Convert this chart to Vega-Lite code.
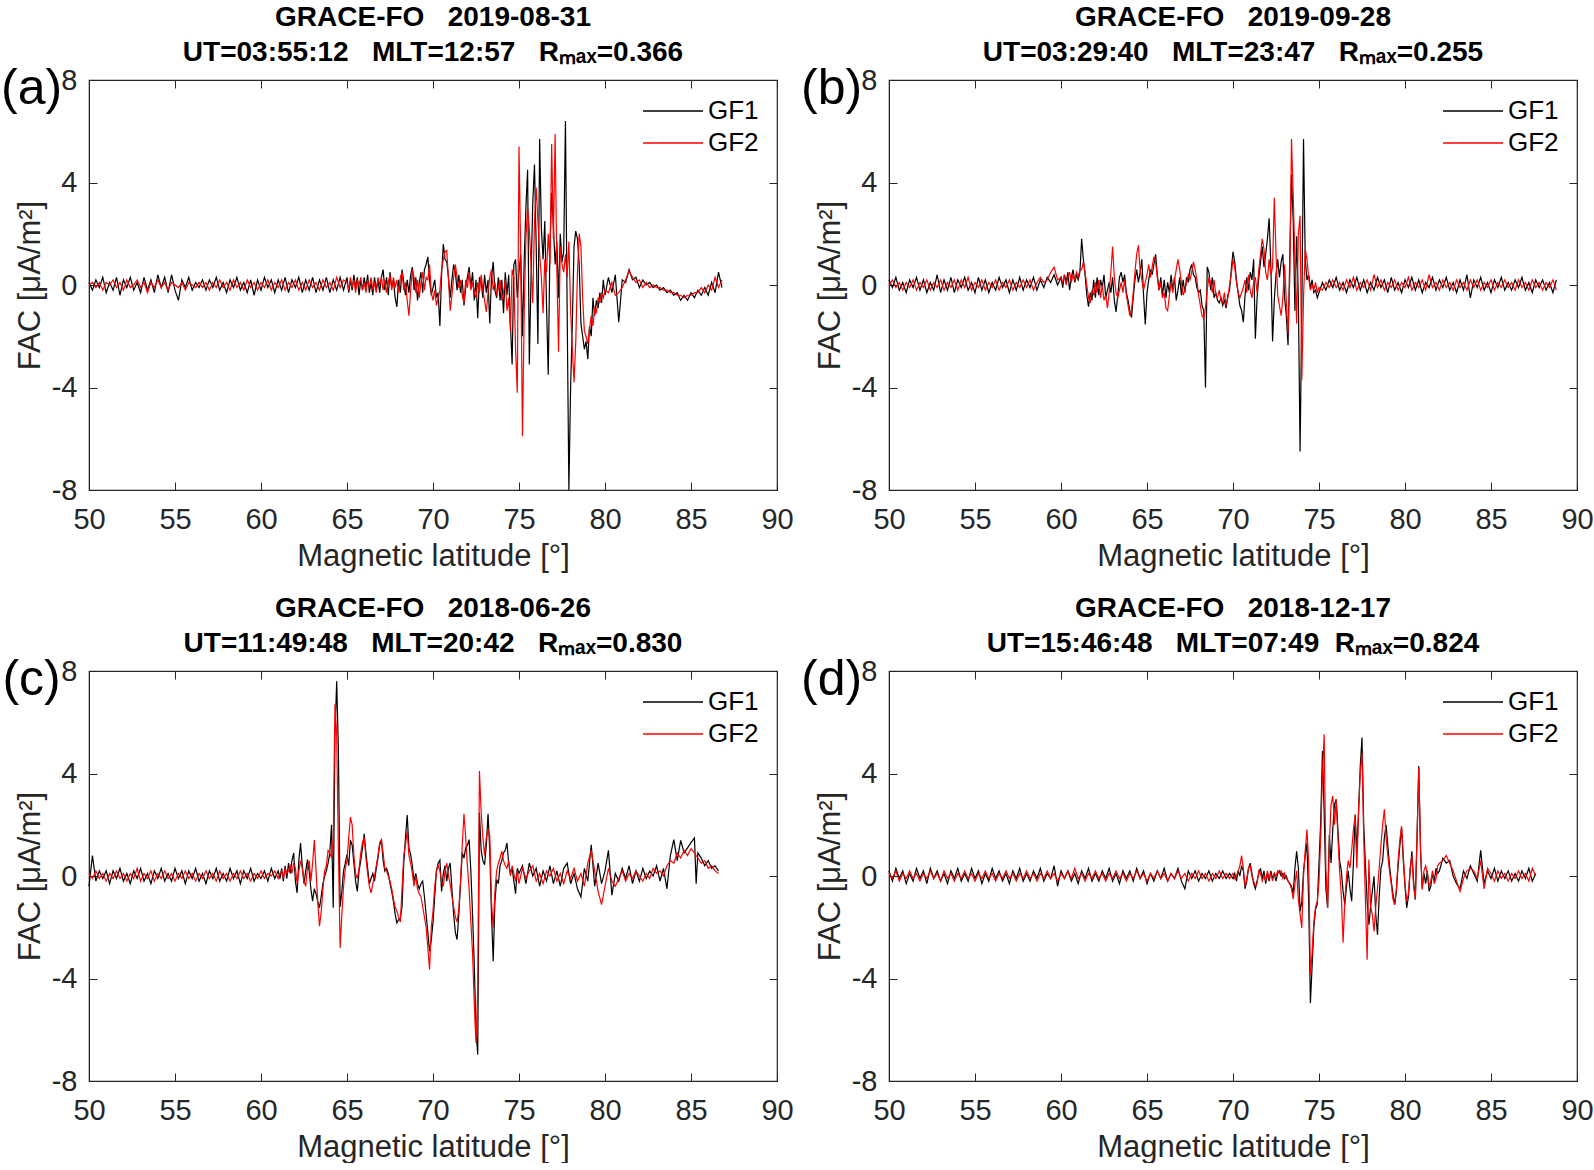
{
"$schema":"https://vega.github.io/schema/vega-lite/v6.json",
"autosize":{"type":"pad"},
"padding":{"left":0,"top":3,"right":0,"bottom":0},
"background":"white",
"config":{
"font":"Liberation Sans",
"view":{"stroke":"#262626","strokeWidth":1.2},
"axis":{"labelFont":"Liberation Sans","labelFontSize":29,"labelColor":"#262626","titleFont":"Liberation Sans","titleFontSize":31,"titleFontWeight":"normal","titleColor":"#262626","domainColor":"#262626","tickColor":"#262626","grid":false,"tickSize":-8,"labelFlush":false,"labelOverlap":false,"labelExpr":"'' + datum.value"},
"axisBottom":{"labelPadding":23,"titlePadding":7},
"axisLeft":{"labelPadding":20,"titlePadding":5},
"title":{"font":"Liberation Sans","fontSize":28,"fontWeight":"bold","color":"#000000","lineHeight":35,"frame":"group","anchor":"middle","offset":-3,"baseline":"bottom"},
"legend":{"orient":"top-right","offset":18,"padding":0,"labelFont":"Liberation Sans","labelFontSize":26,"labelColor":"#000000","symbolType":"M-3,0H3","symbolSize":400,"symbolStrokeWidth":1.3,"labelOffset":22,"rowPadding":6,"labelLimit":200}
},
"datasets":{
"a":[
{"x":50,"GF1":0.1,"GF2":0},{"x":50.2,"GF1":-0.2,"GF2":0.1},{"x":50.4,"GF1":0.2,"GF2":-0.1},{"x":50.6,"GF1":-0.1,"GF2":0.1},{"x":50.8,"GF1":0.3,"GF2":-0.2},{"x":51,"GF1":-0.3,"GF2":0.1},{"x":51.2,"GF1":0.1,"GF2":0},{"x":51.4,"GF1":-0.2,"GF2":0.2},{"x":51.6,"GF1":0.3,"GF2":-0.1},{"x":51.8,"GF1":-0.4,"GF2":0.1},{"x":52,"GF1":0.2,"GF2":-0.2},{"x":52.2,"GF1":-0.1,"GF2":0.2},{"x":52.4,"GF1":0.3,"GF2":-0.1},{"x":52.6,"GF1":-0.2,"GF2":0},{"x":52.8,"GF1":0.1,"GF2":0.2},{"x":53,"GF1":-0.3,"GF2":-0.1},{"x":53.2,"GF1":0.3,"GF2":0.1},{"x":53.4,"GF1":-0.2,"GF2":-0.3},{"x":53.6,"GF1":0.2,"GF2":0.1},{"x":53.8,"GF1":-0.3,"GF2":-0.1},{"x":54,"GF1":0.4,"GF2":0.2},{"x":54.2,"GF1":-0.1,"GF2":-0.1},{"x":54.4,"GF1":0.3,"GF2":0.1},{"x":54.6,"GF1":-0.3,"GF2":-0.2},{"x":54.8,"GF1":0.4,"GF2":0.1},{"x":55,"GF1":-0.2,"GF2":0},{"x":55.2,"GF1":-0.6,"GF2":-0.1},{"x":55.4,"GF1":0.2,"GF2":0.1},{"x":55.6,"GF1":-0.1,"GF2":-0.2},{"x":55.8,"GF1":0.3,"GF2":0.1},{"x":56,"GF1":-0.2,"GF2":0},{"x":56.2,"GF1":0.1,"GF2":-0.1},{"x":56.4,"GF1":-0.1,"GF2":0.1},{"x":56.6,"GF1":0.2,"GF2":-0.1},{"x":56.8,"GF1":-0.2,"GF2":0.1},{"x":57,"GF1":0.2,"GF2":-0.2},{"x":57.2,"GF1":-0.1,"GF2":0.1},{"x":57.4,"GF1":0.3,"GF2":-0.1},{"x":57.6,"GF1":-0.2,"GF2":0.2},{"x":57.8,"GF1":0.1,"GF2":-0.1},{"x":58,"GF1":-0.3,"GF2":0.1},{"x":58.2,"GF1":0.2,"GF2":-0.2},{"x":58.4,"GF1":-0.1,"GF2":0.2},{"x":58.6,"GF1":0.3,"GF2":-0.1},{"x":58.8,"GF1":-0.2,"GF2":0.1},{"x":59,"GF1":0.1,"GF2":-0.2},{"x":59.2,"GF1":-0.3,"GF2":0.2},{"x":59.4,"GF1":0.2,"GF2":-0.1},{"x":59.6,"GF1":-0.4,"GF2":0.1},{"x":59.8,"GF1":0.2,"GF2":-0.2},{"x":60,"GF1":-0.2,"GF2":0.1},{"x":60.2,"GF1":0.3,"GF2":-0.1},{"x":60.4,"GF1":-0.1,"GF2":0.2},{"x":60.6,"GF1":0.2,"GF2":-0.2},{"x":60.8,"GF1":-0.3,"GF2":0.1},{"x":61,"GF1":0.2,"GF2":-0.1},{"x":61.2,"GF1":-0.2,"GF2":0.2},{"x":61.4,"GF1":0.3,"GF2":-0.2},{"x":61.6,"GF1":-0.3,"GF2":0.1},{"x":61.8,"GF1":0.2,"GF2":-0.1},{"x":62,"GF1":-0.1,"GF2":0.2},{"x":62.2,"GF1":0.3,"GF2":-0.2},{"x":62.4,"GF1":-0.3,"GF2":0.1},{"x":62.6,"GF1":0.2,"GF2":-0.2},{"x":62.8,"GF1":-0.2,"GF2":0.2},{"x":63,"GF1":0.3,"GF2":-0.1},{"x":63.2,"GF1":-0.3,"GF2":0.1},{"x":63.4,"GF1":0.2,"GF2":-0.2},{"x":63.6,"GF1":-0.2,"GF2":0.2},{"x":63.8,"GF1":0.3,"GF2":-0.1},{"x":64,"GF1":-0.3,"GF2":0.1},{"x":64.2,"GF1":0.2,"GF2":-0.2},{"x":64.4,"GF1":-0.2,"GF2":0.3},{"x":64.6,"GF1":0.3,"GF2":-0.1},{"x":64.8,"GF1":-0.2,"GF2":0.2},
{"x":65,"GF1":0.3,"GF2":0.1},{"x":65.1,"GF1":-0.3,"GF2":-0.2},{"x":65.2,"GF1":0.2,"GF2":0.3},{"x":65.3,"GF1":-0.2,"GF2":-0.1},{"x":65.4,"GF1":0.4,"GF2":0.2},{"x":65.5,"GF1":-0.1,"GF2":-0.3},{"x":65.6,"GF1":0.3,"GF2":0.2},{"x":65.7,"GF1":-0.4,"GF2":0},{"x":65.8,"GF1":0.2,"GF2":0.3},{"x":65.9,"GF1":-0.2,"GF2":-0.2},{"x":66,"GF1":0.3,"GF2":0.1},{"x":66.1,"GF1":-0.1,"GF2":-0.3},{"x":66.2,"GF1":0.4,"GF2":0.2},{"x":66.3,"GF1":-0.3,"GF2":-0.1},{"x":66.4,"GF1":0.1,"GF2":0.3},{"x":66.5,"GF1":-0.4,"GF2":-0.2},{"x":66.6,"GF1":0.3,"GF2":0.1},{"x":66.7,"GF1":-0.2,"GF2":-0.3},{"x":66.8,"GF1":0.2,"GF2":0.3},{"x":66.9,"GF1":-0.3,"GF2":0},{"x":67,"GF1":0.3,"GF2":0.3},{"x":67.1,"GF1":0.6,"GF2":-0.2},{"x":67.2,"GF1":-0.2,"GF2":0.2},{"x":67.3,"GF1":0.3,"GF2":-0.3},{"x":67.4,"GF1":-0.4,"GF2":0.1},{"x":67.5,"GF1":0.5,"GF2":0.4},{"x":67.6,"GF1":-0.1,"GF2":-0.2},{"x":67.7,"GF1":0.2,"GF2":0.3},{"x":67.8,"GF1":-0.5,"GF2":-0.1},{"x":67.9,"GF1":-0.85,"GF2":0.2},{"x":68,"GF1":0.2,"GF2":-0.3},{"x":68.1,"GF1":-0.3,"GF2":0.3},{"x":68.2,"GF1":0.6,"GF2":0.5},{"x":68.3,"GF1":0.1,"GF2":-0.2},{"x":68.4,"GF1":-0.4,"GF2":0.1},{"x":68.5,"GF1":0.2,"GF2":-0.6},{"x":68.6,"GF1":-0.3,"GF2":-1.2},{"x":68.7,"GF1":0.4,"GF2":-0.2},{"x":68.8,"GF1":0.7,"GF2":0.6},{"x":68.9,"GF1":-0.2,"GF2":0.3},{"x":69,"GF1":0.3,"GF2":-0.3},{"x":69.1,"GF1":-0.6,"GF2":0.2},{"x":69.2,"GF1":0.1,"GF2":-0.5},{"x":69.3,"GF1":0.5,"GF2":0.1},{"x":69.4,"GF1":-0.3,"GF2":0.5},{"x":69.5,"GF1":0.6,"GF2":-0.2},{"x":69.6,"GF1":0.8,"GF2":0.3},{"x":69.7,"GF1":1.1,"GF2":0.2},{"x":69.8,"GF1":0.2,"GF2":0.8},{"x":69.9,"GF1":-0.4,"GF2":-0.3},{"x":70,"GF1":-0.1,"GF2":-0.6},{"x":70.1,"GF1":0.2,"GF2":-0.2},{"x":70.2,"GF1":-0.5,"GF2":-0.8},{"x":70.3,"GF1":-0.3,"GF2":-0.5},{"x":70.4,"GF1":-1.6,"GF2":-0.2},{"x":70.5,"GF1":0.4,"GF2":0.6},{"x":70.6,"GF1":1.6,"GF2":1},{"x":70.7,"GF1":1,"GF2":1.3},{"x":70.8,"GF1":0.9,"GF2":1.35},{"x":70.9,"GF1":0.3,"GF2":0.2},{"x":71,"GF1":-0.5,"GF2":-1},{"x":71.1,"GF1":0.2,"GF2":-0.4},{"x":71.2,"GF1":0.8,"GF2":0.3},{"x":71.3,"GF1":0.5,"GF2":0.8},{"x":71.4,"GF1":-0.2,"GF2":0.3},{"x":71.5,"GF1":0.4,"GF2":-0.1},{"x":71.6,"GF1":-0.3,"GF2":0.2},{"x":71.7,"GF1":0.2,"GF2":-0.4},{"x":71.8,"GF1":-0.8,"GF2":-0.7},{"x":71.9,"GF1":-0.1,"GF2":0.2},{"x":72,"GF1":0.3,"GF2":-0.1},{"x":72.1,"GF1":0.7,"GF2":0.5},{"x":72.2,"GF1":-0.1,"GF2":-0.2},{"x":72.3,"GF1":0.5,"GF2":0.1},{"x":72.4,"GF1":-0.6,"GF2":-0.3},{"x":72.5,"GF1":0.2,"GF2":-0.5},{"x":72.6,"GF1":-1.3,"GF2":0.1},{"x":72.7,"GF1":0.3,"GF2":-0.3},{"x":72.8,"GF1":0.1,"GF2":0.4},{"x":72.9,"GF1":-0.5,"GF2":-0.2},{"x":73,"GF1":0.4,"GF2":-0.6},{"x":73.1,"GF1":-0.3,"GF2":-1.05},{"x":73.2,"GF1":0.2,"GF2":-0.3},{"x":73.3,"GF1":-1.5,"GF2":0.3},{"x":73.4,"GF1":0.3,"GF2":0.6},{"x":73.5,"GF1":0.9,"GF2":-0.2},{"x":73.6,"GF1":-0.2,"GF2":0.1},{"x":73.7,"GF1":-0.5,"GF2":-0.4},{"x":73.8,"GF1":0.3,"GF2":-0.1},{"x":73.9,"GF1":-0.6,"GF2":0.2},{"x":74,"GF1":0.2,"GF2":-0.6},{"x":74.1,"GF1":-1.1,"GF2":-0.3},{"x":74.2,"GF1":0.5,"GF2":0.2},{"x":74.3,"GF1":-0.4,"GF2":-1},{"x":74.4,"GF1":0.4,"GF2":-0.5},{"x":74.5,"GF1":-1.5,"GF2":-1.8},{"x":74.6,"GF1":-3.1,"GF2":0.6},{"x":74.7,"GF1":0.8,"GF2":0.3},{"x":74.8,"GF1":1,"GF2":-2.5},{"x":74.9,"GF1":-0.5,"GF2":-4.2},{"x":75,"GF1":0.5,"GF2":5.4},{"x":75.1,"GF1":1.2,"GF2":1.2},{"x":75.2,"GF1":-2,"GF2":-5.9},{"x":75.3,"GF1":0.9,"GF2":-1.2},{"x":75.4,"GF1":3,"GF2":1.8},{"x":75.5,"GF1":4.5,"GF2":3},{"x":75.6,"GF1":-3.1,"GF2":2.2},{"x":75.7,"GF1":0.3,"GF2":0.8},{"x":75.8,"GF1":3.2,"GF2":-0.7},{"x":75.9,"GF1":4.7,"GF2":2.5},{"x":76,"GF1":1.5,"GF2":3.8},{"x":76.1,"GF1":-2.3,"GF2":2.5},{"x":76.2,"GF1":5.7,"GF2":1.2},{"x":76.3,"GF1":2.2,"GF2":0.3},{"x":76.4,"GF1":1,"GF2":-1.1},{"x":76.5,"GF1":2.5,"GF2":1},{"x":76.6,"GF1":-0.8,"GF2":0.5},{"x":76.7,"GF1":-3.5,"GF2":2},{"x":76.8,"GF1":1.5,"GF2":0.8},{"x":76.9,"GF1":3.6,"GF2":5.5},{"x":77,"GF1":2.3,"GF2":1.8},{"x":77.1,"GF1":0.8,"GF2":5.9},{"x":77.2,"GF1":1.7,"GF2":0.6},{"x":77.3,"GF1":-0.5,"GF2":-2.6},{"x":77.4,"GF1":2,"GF2":1.5},{"x":77.5,"GF1":0.9,"GF2":0.8},{"x":77.6,"GF1":1.3,"GF2":0.5},{"x":77.7,"GF1":6.4,"GF2":1.2},{"x":77.8,"GF1":-1,"GF2":0.3},{"x":77.9,"GF1":-8,"GF2":1.7},{"x":78,"GF1":-4,"GF2":-1},{"x":78.1,"GF1":-1.5,"GF2":-2.5},{"x":78.2,"GF1":1.5,"GF2":-3.8},{"x":78.3,"GF1":2.1,"GF2":-2.2},{"x":78.4,"GF1":1.8,"GF2":0.5},{"x":78.5,"GF1":0.8,"GF2":2},{"x":78.6,"GF1":-1.5,"GF2":1.5},{"x":78.7,"GF1":-2,"GF2":-0.5},{"x":78.8,"GF1":-2.5,"GF2":-1.8},{"x":78.9,"GF1":-2.2,"GF2":-2},{"x":79,"GF1":-2.9,"GF2":-2.3},{"x":79.1,"GF1":-1.6,"GF2":-1.7},{"x":79.2,"GF1":-2,"GF2":-1.2},{"x":79.3,"GF1":-0.5,"GF2":-1.6},{"x":79.4,"GF1":-1.2,"GF2":-0.9},{"x":79.5,"GF1":-0.6,"GF2":-1.1},{"x":79.6,"GF1":-0.9,"GF2":-0.5},{"x":79.7,"GF1":-0.3,"GF2":-0.7},{"x":79.8,"GF1":-0.7,"GF2":-0.3},{"x":79.9,"GF1":0.2,"GF2":-0.5},{"x":80,"GF1":-0.4,"GF2":-0.2},
{"x":80.2,"GF1":0.3,"GF2":-0.3},{"x":80.4,"GF1":-0.3,"GF2":0.1},{"x":80.6,"GF1":0.4,"GF2":-0.4},{"x":80.8,"GF1":-1.45,"GF2":-0.3},{"x":81,"GF1":0.2,"GF2":-0.1},{"x":81.2,"GF1":0.1,"GF2":0.2},{"x":81.4,"GF1":0.6,"GF2":0.55},{"x":81.6,"GF1":0.2,"GF2":0.3},{"x":81.8,"GF1":0.3,"GF2":0.1},{"x":82,"GF1":-0.1,"GF2":0.2},{"x":82.2,"GF1":0.2,"GF2":-0.1},{"x":82.4,"GF1":0,"GF2":0.1},{"x":82.6,"GF1":0.1,"GF2":-0.1},{"x":82.8,"GF1":-0.1,"GF2":0},{"x":83,"GF1":0,"GF2":-0.1},{"x":83.2,"GF1":-0.2,"GF2":-0.1},{"x":83.4,"GF1":-0.1,"GF2":-0.2},{"x":83.6,"GF1":-0.3,"GF2":-0.2},{"x":83.8,"GF1":-0.2,"GF2":-0.3},{"x":84,"GF1":-0.4,"GF2":-0.3},{"x":84.2,"GF1":-0.3,"GF2":-0.4},{"x":84.4,"GF1":-0.6,"GF2":-0.4},{"x":84.6,"GF1":-0.4,"GF2":-0.5},{"x":84.8,"GF1":-0.6,"GF2":-0.4},{"x":85,"GF1":-0.3,"GF2":-0.4},{"x":85.2,"GF1":-0.5,"GF2":-0.3},{"x":85.4,"GF1":-0.2,"GF2":-0.3},{"x":85.6,"GF1":-0.4,"GF2":-0.1},{"x":85.8,"GF1":-0.1,"GF2":-0.3},{"x":86,"GF1":-0.4,"GF2":0},{"x":86.2,"GF1":0.1,"GF2":-0.2},{"x":86.4,"GF1":-0.3,"GF2":0.3},{"x":86.6,"GF1":0.5,"GF2":-0.1},{"x":86.8,"GF1":-0.1,"GF2":0.2}
],
"b":[
{"x":50,"GF1":0.2,"GF2":0},{"x":50.2,"GF1":-0.1,"GF2":0.2},{"x":50.4,"GF1":0.3,"GF2":-0.1},{"x":50.6,"GF1":-0.2,"GF2":0.1},{"x":50.8,"GF1":0.1,"GF2":-0.2},{"x":51,"GF1":-0.3,"GF2":0.1},{"x":51.2,"GF1":0.2,"GF2":-0.1},{"x":51.4,"GF1":-0.1,"GF2":0.2},{"x":51.6,"GF1":0.3,"GF2":-0.2},{"x":51.8,"GF1":-0.2,"GF2":0.1},{"x":52,"GF1":0.2,"GF2":-0.1},{"x":52.2,"GF1":-0.3,"GF2":0.2},{"x":52.4,"GF1":0.1,"GF2":-0.2},{"x":52.6,"GF1":-0.2,"GF2":0.1},{"x":52.8,"GF1":0.4,"GF2":-0.1},{"x":53,"GF1":-0.3,"GF2":0.2},{"x":53.2,"GF1":0.2,"GF2":-0.2},{"x":53.4,"GF1":-0.2,"GF2":0.1},{"x":53.6,"GF1":0.3,"GF2":-0.1},{"x":53.8,"GF1":-0.3,"GF2":0.2},{"x":54,"GF1":0.2,"GF2":-0.2},{"x":54.2,"GF1":-0.1,"GF2":0.2},{"x":54.4,"GF1":0.3,"GF2":-0.1},{"x":54.6,"GF1":-0.2,"GF2":0.3},{"x":54.8,"GF1":0.1,"GF2":-0.2},{"x":55,"GF1":-0.3,"GF2":0.1},{"x":55.2,"GF1":0.3,"GF2":-0.1},{"x":55.4,"GF1":-0.2,"GF2":0.2},{"x":55.6,"GF1":0.2,"GF2":-0.2},{"x":55.8,"GF1":-0.3,"GF2":0.1},{"x":56,"GF1":0.1,"GF2":-0.1},{"x":56.2,"GF1":-0.2,"GF2":0.2},{"x":56.4,"GF1":0.3,"GF2":-0.2},{"x":56.6,"GF1":-0.1,"GF2":0.1},{"x":56.8,"GF1":0.2,"GF2":-0.1},{"x":57,"GF1":-0.3,"GF2":0.2},{"x":57.2,"GF1":0.2,"GF2":-0.2},{"x":57.4,"GF1":-0.2,"GF2":0.1},{"x":57.6,"GF1":0.3,"GF2":-0.1},{"x":57.8,"GF1":-0.2,"GF2":0.2},{"x":58,"GF1":0.2,"GF2":-0.1},{"x":58.2,"GF1":-0.1,"GF2":0.2},{"x":58.4,"GF1":0.3,"GF2":-0.2},{"x":58.6,"GF1":-0.2,"GF2":0.1},{"x":58.8,"GF1":0.2,"GF2":0.3},{"x":59,"GF1":-0.1,"GF2":0.1},{"x":59.2,"GF1":0.3,"GF2":0.2},{"x":59.4,"GF1":0.1,"GF2":0.5},{"x":59.6,"GF1":0.4,"GF2":0.7},{"x":59.8,"GF1":0,"GF2":0.2},
{"x":60,"GF1":0.3,"GF2":0.3},{"x":60.1,"GF1":-0.1,"GF2":0.1},{"x":60.2,"GF1":0.4,"GF2":0.4},{"x":60.3,"GF1":0.1,"GF2":0},{"x":60.4,"GF1":0.5,"GF2":0.3},{"x":60.5,"GF1":-0.2,"GF2":0.5},{"x":60.6,"GF1":0.3,"GF2":0.1},{"x":60.7,"GF1":0.6,"GF2":0.4},{"x":60.8,"GF1":0.1,"GF2":0.2},{"x":60.9,"GF1":0.4,"GF2":0.5},{"x":61,"GF1":0.2,"GF2":0.3},{"x":61.1,"GF1":0.5,"GF2":0.6},{"x":61.2,"GF1":1.8,"GF2":0.6},{"x":61.3,"GF1":1,"GF2":0.9},{"x":61.4,"GF1":0.4,"GF2":0.5},{"x":61.5,"GF1":-0.4,"GF2":0},{"x":61.6,"GF1":-0.85,"GF2":-0.5},{"x":61.7,"GF1":-0.3,"GF2":-0.7},{"x":61.8,"GF1":-0.6,"GF2":-0.2},{"x":61.9,"GF1":0.2,"GF2":-0.4},{"x":62,"GF1":-0.5,"GF2":0.1},{"x":62.1,"GF1":0.3,"GF2":-0.3},{"x":62.2,"GF1":-0.4,"GF2":0.2},{"x":62.3,"GF1":0.2,"GF2":-0.5},{"x":62.4,"GF1":-0.1,"GF2":0},{"x":62.5,"GF1":0.4,"GF2":-0.6},{"x":62.6,"GF1":-0.5,"GF2":-0.4},{"x":62.7,"GF1":-0.2,"GF2":-0.9},{"x":62.8,"GF1":0.1,"GF2":-0.3},{"x":62.9,"GF1":-0.3,"GF2":0.5},{"x":63,"GF1":0.3,"GF2":1.5},{"x":63.1,"GF1":-0.6,"GF2":0.3},{"x":63.2,"GF1":-1.05,"GF2":-0.3},{"x":63.3,"GF1":-0.4,"GF2":-0.5},{"x":63.4,"GF1":0.3,"GF2":-0.2},{"x":63.5,"GF1":0.5,"GF2":0.1},{"x":63.6,"GF1":0.1,"GF2":-0.3},{"x":63.7,"GF1":0.4,"GF2":0.2},{"x":63.8,"GF1":-0.3,"GF2":-0.4},{"x":63.9,"GF1":-0.6,"GF2":-0.8},{"x":64,"GF1":-1,"GF2":-1.2},{"x":64.1,"GF1":-1.27,"GF2":-1},{"x":64.2,"GF1":-0.5,"GF2":-0.3},{"x":64.3,"GF1":0.2,"GF2":0.5},{"x":64.4,"GF1":0.6,"GF2":1.2},{"x":64.5,"GF1":0.1,"GF2":1.55},{"x":64.6,"GF1":0.5,"GF2":0.6},{"x":64.7,"GF1":1,"GF2":0.2},{"x":64.8,"GF1":-0.4,"GF2":-0.2},{"x":64.9,"GF1":-1.54,"GF2":0.1},{"x":65,"GF1":-0.3,"GF2":0.4},{"x":65.1,"GF1":0.2,"GF2":0.8},{"x":65.2,"GF1":0.6,"GF2":0.3},{"x":65.3,"GF1":0.4,"GF2":0.7},{"x":65.4,"GF1":0.8,"GF2":1.1},{"x":65.5,"GF1":1.2,"GF2":0.9},{"x":65.6,"GF1":0.4,"GF2":0.3},{"x":65.7,"GF1":-0.2,"GF2":-0.2},{"x":65.8,"GF1":0.3,"GF2":0.1},{"x":65.9,"GF1":-0.4,"GF2":-0.5},{"x":66,"GF1":0.2,"GF2":-0.3},{"x":66.1,"GF1":-0.5,"GF2":-0.9},{"x":66.2,"GF1":0.1,"GF2":-1},{"x":66.3,"GF1":-0.3,"GF2":-0.4},{"x":66.4,"GF1":0.4,"GF2":0.1},{"x":66.5,"GF1":-0.2,"GF2":-0.3},{"x":66.6,"GF1":0.3,"GF2":0.2},{"x":66.7,"GF1":-0.6,"GF2":0.6},{"x":66.8,"GF1":-0.2,"GF2":1},{"x":66.9,"GF1":0.3,"GF2":0.6},{"x":67,"GF1":-0.4,"GF2":0.1},{"x":67.1,"GF1":0.2,"GF2":-0.4},{"x":67.2,"GF1":-0.3,"GF2":-0.2},{"x":67.3,"GF1":0.3,"GF2":0.1},{"x":67.4,"GF1":0.1,"GF2":0.4},{"x":67.5,"GF1":0.6,"GF2":0.2},{"x":67.6,"GF1":0.8,"GF2":0.5},{"x":67.7,"GF1":0.4,"GF2":0.9},{"x":67.8,"GF1":0.3,"GF2":0.6},{"x":67.9,"GF1":-0.1,"GF2":0.2},{"x":68,"GF1":-0.3,"GF2":-0.4},{"x":68.1,"GF1":-0.2,"GF2":-0.8},{"x":68.2,"GF1":-0.8,"GF2":-1.2},{"x":68.3,"GF1":-1,"GF2":-1.3},{"x":68.4,"GF1":-4,"GF2":-0.9},{"x":68.5,"GF1":0.7,"GF2":-0.2},{"x":68.6,"GF1":0.5,"GF2":0.3},{"x":68.7,"GF1":-0.2,"GF2":0.1},{"x":68.8,"GF1":0.3,"GF2":-0.3},{"x":68.9,"GF1":-0.5,"GF2":0.2},{"x":69,"GF1":-0.3,"GF2":-0.4},{"x":69.1,"GF1":-0.6,"GF2":-0.5},{"x":69.2,"GF1":-0.7,"GF2":-0.2},{"x":69.3,"GF1":-0.5,"GF2":-0.6},{"x":69.4,"GF1":-0.8,"GF2":-0.7},{"x":69.5,"GF1":-0.6,"GF2":-0.3},{"x":69.6,"GF1":-0.9,"GF2":-0.8},{"x":69.7,"GF1":-0.4,"GF2":-0.5},{"x":69.8,"GF1":-0.2,"GF2":0},{"x":69.9,"GF1":0.6,"GF2":0.4},{"x":70,"GF1":1.3,"GF2":1},{"x":70.1,"GF1":0.9,"GF2":0.7},{"x":70.2,"GF1":0.2,"GF2":0.1},{"x":70.3,"GF1":-0.3,"GF2":-0.3},{"x":70.4,"GF1":-0.8,"GF2":-0.5},{"x":70.5,"GF1":-1,"GF2":-0.3},{"x":70.6,"GF1":-1.45,"GF2":-0.1},{"x":70.7,"GF1":-0.4,"GF2":0.2},{"x":70.8,"GF1":0.3,"GF2":-0.3},{"x":70.9,"GF1":-0.2,"GF2":0.4},{"x":71,"GF1":0.5,"GF2":-0.2},{"x":71.1,"GF1":0.2,"GF2":-0.5},{"x":71.2,"GF1":1,"GF2":0.1},{"x":71.3,"GF1":-2.1,"GF2":0.3},{"x":71.4,"GF1":-0.5,"GF2":-0.3},{"x":71.5,"GF1":0.3,"GF2":0.6},{"x":71.6,"GF1":0.9,"GF2":1.2},{"x":71.7,"GF1":1.5,"GF2":1.8},{"x":71.8,"GF1":0.7,"GF2":1.4},{"x":71.9,"GF1":1.2,"GF2":0.5},{"x":72,"GF1":1.8,"GF2":0.2},{"x":72.1,"GF1":2.6,"GF2":1},{"x":72.2,"GF1":0.8,"GF2":0.4},{"x":72.3,"GF1":-2.2,"GF2":0.7},{"x":72.4,"GF1":-0.6,"GF2":3.4},{"x":72.5,"GF1":0.4,"GF2":1.2},{"x":72.6,"GF1":1,"GF2":-0.4},{"x":72.7,"GF1":0.3,"GF2":-0.8},{"x":72.8,"GF1":0.9,"GF2":-1.2},{"x":72.9,"GF1":1.2,"GF2":-0.5},{"x":73,"GF1":-0.5,"GF2":0.8},{"x":73.1,"GF1":-1.2,"GF2":-0.6},{"x":73.2,"GF1":-2.35,"GF2":-1.9},{"x":73.3,"GF1":1,"GF2":0.2},{"x":73.4,"GF1":4.3,"GF2":5.7},{"x":73.5,"GF1":2.5,"GF2":3.5},{"x":73.6,"GF1":-1,"GF2":1},{"x":73.7,"GF1":1.9,"GF2":-1.5},{"x":73.8,"GF1":-0.5,"GF2":2},{"x":73.9,"GF1":-6.5,"GF2":2.7},{"x":74,"GF1":-1,"GF2":-3.7},{"x":74.1,"GF1":5.7,"GF2":-0.5},{"x":74.2,"GF1":1,"GF2":1.4},{"x":74.3,"GF1":0.2,"GF2":1},{"x":74.4,"GF1":0.4,"GF2":0.3},{"x":74.5,"GF1":-0.1,"GF2":-0.2},{"x":74.6,"GF1":0.2,"GF2":0},{"x":74.7,"GF1":-0.3,"GF2":-0.2},{"x":74.8,"GF1":-0.2,"GF2":0.1},{"x":74.9,"GF1":-0.5,"GF2":-0.3},{"x":75,"GF1":-0.3,"GF2":-0.1},
{"x":75.2,"GF1":0.1,"GF2":-0.2},{"x":75.4,"GF1":-0.2,"GF2":0.1},{"x":75.6,"GF1":0.2,"GF2":-0.1},{"x":75.8,"GF1":-0.1,"GF2":0.2},{"x":76,"GF1":0.3,"GF2":-0.1},{"x":76.2,"GF1":-0.2,"GF2":0.1},{"x":76.4,"GF1":0.1,"GF2":-0.2},{"x":76.6,"GF1":-0.3,"GF2":0.2},{"x":76.8,"GF1":0.2,"GF2":-0.1},{"x":77,"GF1":-0.1,"GF2":0.3},{"x":77.2,"GF1":0.3,"GF2":-0.2},{"x":77.4,"GF1":-0.2,"GF2":0.1},{"x":77.6,"GF1":0.2,"GF2":-0.1},{"x":77.8,"GF1":-0.3,"GF2":0.2},{"x":78,"GF1":0.1,"GF2":-0.2},{"x":78.2,"GF1":-0.2,"GF2":0.4},{"x":78.4,"GF1":0.3,"GF2":-0.1},{"x":78.6,"GF1":-0.1,"GF2":0.2},{"x":78.8,"GF1":0.2,"GF2":-0.2},{"x":79,"GF1":-0.3,"GF2":0.1},{"x":79.2,"GF1":0.3,"GF2":-0.1},{"x":79.4,"GF1":-0.2,"GF2":0.2},{"x":79.6,"GF1":0.1,"GF2":-0.2},{"x":79.8,"GF1":-0.3,"GF2":0.1},{"x":80,"GF1":0.2,"GF2":-0.1},{"x":80.2,"GF1":-0.1,"GF2":0.3},{"x":80.4,"GF1":0.3,"GF2":-0.2},{"x":80.6,"GF1":-0.2,"GF2":0.1},{"x":80.8,"GF1":0.2,"GF2":-0.1},{"x":81,"GF1":-0.3,"GF2":0.2},{"x":81.2,"GF1":0.1,"GF2":-0.2},{"x":81.4,"GF1":-0.1,"GF2":0.4},{"x":81.6,"GF1":0.3,"GF2":-0.1},{"x":81.8,"GF1":-0.2,"GF2":0.1},{"x":82,"GF1":0.2,"GF2":-0.2},{"x":82.2,"GF1":-0.1,"GF2":0.2},{"x":82.4,"GF1":0.3,"GF2":-0.1},{"x":82.6,"GF1":-0.2,"GF2":0.1},{"x":82.8,"GF1":0.1,"GF2":-0.2},{"x":83,"GF1":-0.3,"GF2":0.2},{"x":83.2,"GF1":0.2,"GF2":-0.1},{"x":83.4,"GF1":-0.2,"GF2":0.1},{"x":83.6,"GF1":0.4,"GF2":-0.2},{"x":83.8,"GF1":-0.5,"GF2":0.2},{"x":84,"GF1":0.2,"GF2":-0.1},{"x":84.2,"GF1":-0.1,"GF2":0.2},{"x":84.4,"GF1":0.3,"GF2":-0.2},{"x":84.6,"GF1":-0.2,"GF2":0.1},{"x":84.8,"GF1":0.1,"GF2":-0.1},{"x":85,"GF1":-0.3,"GF2":0.2},{"x":85.2,"GF1":0.2,"GF2":-0.2},{"x":85.4,"GF1":-0.1,"GF2":0.1},{"x":85.6,"GF1":0.3,"GF2":-0.1},{"x":85.8,"GF1":-0.2,"GF2":0.2},{"x":86,"GF1":0.1,"GF2":-0.1},{"x":86.2,"GF1":-0.2,"GF2":0.1},{"x":86.4,"GF1":0.2,"GF2":-0.2},{"x":86.6,"GF1":-0.1,"GF2":0.2},{"x":86.8,"GF1":0.3,"GF2":-0.1},{"x":87,"GF1":-0.2,"GF2":0.1},{"x":87.2,"GF1":0.1,"GF2":-0.2},{"x":87.4,"GF1":-0.3,"GF2":0.2},{"x":87.6,"GF1":0.2,"GF2":-0.1},{"x":87.8,"GF1":-0.1,"GF2":0.1},{"x":88,"GF1":0.2,"GF2":-0.2},{"x":88.2,"GF1":-0.2,"GF2":0.1},{"x":88.4,"GF1":0.1,"GF2":-0.1},{"x":88.6,"GF1":-0.3,"GF2":0.2},{"x":88.8,"GF1":0.2,"GF2":-0.2}
],
"c":[
{"x":50,"GF1":-0.4,"GF2":0.1},{"x":50.2,"GF1":0.8,"GF2":-0.1},{"x":50.4,"GF1":-0.2,"GF2":0.2},{"x":50.6,"GF1":0.2,"GF2":-0.1},{"x":50.8,"GF1":-0.1,"GF2":0.1},{"x":51,"GF1":0.2,"GF2":-0.2},{"x":51.2,"GF1":-0.3,"GF2":0.1},{"x":51.4,"GF1":0.2,"GF2":-0.1},{"x":51.6,"GF1":-0.1,"GF2":0.2},{"x":51.8,"GF1":0.3,"GF2":-0.1},{"x":52,"GF1":-0.2,"GF2":0.1},{"x":52.2,"GF1":0.1,"GF2":-0.2},{"x":52.4,"GF1":-0.3,"GF2":0.1},{"x":52.6,"GF1":0.2,"GF2":-0.1},{"x":52.8,"GF1":-0.1,"GF2":0.3},{"x":53,"GF1":0.3,"GF2":-0.2},{"x":53.2,"GF1":-0.2,"GF2":0.1},{"x":53.4,"GF1":0.1,"GF2":-0.1},{"x":53.6,"GF1":-0.3,"GF2":0.2},{"x":53.8,"GF1":0.2,"GF2":-0.2},{"x":54,"GF1":-0.1,"GF2":0.1},{"x":54.2,"GF1":0.3,"GF2":-0.1},{"x":54.4,"GF1":-0.2,"GF2":0.2},{"x":54.6,"GF1":0.1,"GF2":-0.1},{"x":54.8,"GF1":-0.2,"GF2":0.1},{"x":55,"GF1":0.3,"GF2":-0.2},{"x":55.2,"GF1":-0.1,"GF2":0.1},{"x":55.4,"GF1":0.2,"GF2":-0.1},{"x":55.6,"GF1":-0.3,"GF2":0.2},{"x":55.8,"GF1":0.2,"GF2":-0.1},{"x":56,"GF1":-0.1,"GF2":0.1},{"x":56.2,"GF1":0.3,"GF2":-0.2},{"x":56.4,"GF1":-0.2,"GF2":0.1},{"x":56.6,"GF1":0.1,"GF2":-0.1},{"x":56.8,"GF1":-0.3,"GF2":0.2},{"x":57,"GF1":0.2,"GF2":-0.1},{"x":57.2,"GF1":-0.1,"GF2":0.1},{"x":57.4,"GF1":0.3,"GF2":-0.2},{"x":57.6,"GF1":-0.2,"GF2":0.2},{"x":57.8,"GF1":0.1,"GF2":-0.1},{"x":58,"GF1":-0.2,"GF2":0.1},{"x":58.2,"GF1":0.3,"GF2":-0.2},{"x":58.4,"GF1":-0.1,"GF2":0.1},{"x":58.6,"GF1":0.2,"GF2":-0.1},{"x":58.8,"GF1":-0.3,"GF2":0.2},{"x":59,"GF1":0.2,"GF2":-0.1},{"x":59.2,"GF1":-0.1,"GF2":0.1},{"x":59.4,"GF1":0.3,"GF2":-0.2},{"x":59.6,"GF1":-0.2,"GF2":0.1},{"x":59.8,"GF1":0.1,"GF2":-0.1},{"x":60,"GF1":-0.1,"GF2":0.2},{"x":60.2,"GF1":0.2,"GF2":-0.1},{"x":60.4,"GF1":-0.2,"GF2":0.1},{"x":60.6,"GF1":0.3,"GF2":0},{"x":60.8,"GF1":-0.1,"GF2":0.2},
{"x":61,"GF1":0.2,"GF2":-0.1},{"x":61.1,"GF1":-0.1,"GF2":0.1},{"x":61.2,"GF1":0.3,"GF2":0.2},{"x":61.3,"GF1":-0.2,"GF2":-0.1},{"x":61.4,"GF1":0.4,"GF2":0.3},{"x":61.5,"GF1":-0.1,"GF2":0.1},{"x":61.6,"GF1":0.5,"GF2":0.2},{"x":61.7,"GF1":0.1,"GF2":0.4},{"x":61.8,"GF1":0.6,"GF2":0.1},{"x":61.9,"GF1":0.9,"GF2":0.5},{"x":62,"GF1":-0.2,"GF2":0.3},{"x":62.1,"GF1":-0.66,"GF2":-0.3},{"x":62.2,"GF1":0.6,"GF2":0.2},{"x":62.3,"GF1":1.29,"GF2":0.6},{"x":62.4,"GF1":0.4,"GF2":0.3},{"x":62.5,"GF1":-0.3,"GF2":-0.2},{"x":62.6,"GF1":0.2,"GF2":-0.4},{"x":62.7,"GF1":0.64,"GF2":0.3},{"x":62.8,"GF1":0.2,"GF2":0.6},{"x":62.9,"GF1":-0.5,"GF2":-0.2},{"x":63,"GF1":-0.98,"GF2":0.5},{"x":63.1,"GF1":-0.5,"GF2":1.4},{"x":63.2,"GF1":-0.7,"GF2":0.2},{"x":63.3,"GF1":-1,"GF2":-1},{"x":63.4,"GF1":-1.24,"GF2":-1.96},{"x":63.5,"GF1":-0.8,"GF2":-1.4},{"x":63.6,"GF1":-0.3,"GF2":-0.5},{"x":63.7,"GF1":0,"GF2":0.2},{"x":63.8,"GF1":0.2,"GF2":0.4},{"x":63.9,"GF1":0.5,"GF2":1},{"x":64,"GF1":0.9,"GF2":0.9},{"x":64.1,"GF1":2,"GF2":0.7},{"x":64.2,"GF1":-1.24,"GF2":1.5},{"x":64.3,"GF1":5.5,"GF2":6.7},{"x":64.4,"GF1":7.6,"GF2":5.5},{"x":64.5,"GF1":4.9,"GF2":1},{"x":64.6,"GF1":-1.2,"GF2":-2.8},{"x":64.7,"GF1":-0.6,"GF2":-1.5},{"x":64.8,"GF1":0.2,"GF2":-0.4},{"x":64.9,"GF1":0.5,"GF2":0.3},{"x":65,"GF1":0.84,"GF2":0.6},{"x":65.1,"GF1":0.4,"GF2":1.5},{"x":65.2,"GF1":1.4,"GF2":2.3},{"x":65.3,"GF1":1.2,"GF2":2},{"x":65.4,"GF1":0.5,"GF2":0.8},{"x":65.5,"GF1":-0.2,"GF2":0.1},{"x":65.6,"GF1":-0.6,"GF2":-0.1},{"x":65.7,"GF1":0.2,"GF2":0.3},{"x":65.8,"GF1":0.6,"GF2":0.9},{"x":65.9,"GF1":1.1,"GF2":1.3},{"x":66,"GF1":1.65,"GF2":1.5},{"x":66.1,"GF1":0.9,"GF2":0.7},{"x":66.2,"GF1":0.3,"GF2":0.1},{"x":66.3,"GF1":-0.3,"GF2":-0.4},{"x":66.4,"GF1":-0.1,"GF2":-0.66},{"x":66.5,"GF1":0.1,"GF2":-0.3},{"x":66.6,"GF1":-0.2,"GF2":0},{"x":66.7,"GF1":0.3,"GF2":0.4},{"x":66.8,"GF1":0.7,"GF2":0.8},{"x":66.9,"GF1":1.2,"GF2":1.3},{"x":67,"GF1":1.42,"GF2":1.42},{"x":67.1,"GF1":0.6,"GF2":0.9},{"x":67.2,"GF1":0.19,"GF2":0.3},{"x":67.3,"GF1":0.3,"GF2":0.2},{"x":67.4,"GF1":0.1,"GF2":0},{"x":67.5,"GF1":-0.3,"GF2":-0.2},{"x":67.6,"GF1":-0.6,"GF2":-0.5},{"x":67.7,"GF1":-1,"GF2":-0.9},{"x":67.8,"GF1":-1.5,"GF2":-1.2},{"x":67.9,"GF1":-1.83,"GF2":-1.38},{"x":68,"GF1":-1.7,"GF2":-1.6},{"x":68.1,"GF1":-1.64,"GF2":-1.8},{"x":68.2,"GF1":-1.2,"GF2":-0.5},{"x":68.3,"GF1":0.5,"GF2":0.8},{"x":68.4,"GF1":1.5,"GF2":1.2},{"x":68.5,"GF1":2.38,"GF2":1.75},{"x":68.6,"GF1":1.1,"GF2":0.8},{"x":68.7,"GF1":0.84,"GF2":0.5},{"x":68.8,"GF1":0.4,"GF2":0.1},{"x":68.9,"GF1":-0.2,"GF2":-0.4},{"x":69,"GF1":0.1,"GF2":0},{"x":69.1,"GF1":-0.3,"GF2":-0.5},{"x":69.2,"GF1":-0.5,"GF2":-0.7},{"x":69.3,"GF1":-0.3,"GF2":-0.8},{"x":69.4,"GF1":-0.2,"GF2":-1.2},{"x":69.5,"GF1":-0.8,"GF2":-1.6},{"x":69.6,"GF1":-1.5,"GF2":-2},{"x":69.7,"GF1":-2.2,"GF2":-2.8},{"x":69.8,"GF1":-2.94,"GF2":-3.65},{"x":69.9,"GF1":-2.5,"GF2":-2},{"x":70,"GF1":-1.8,"GF2":-1.38},{"x":70.1,"GF1":-0.8,"GF2":-0.4},{"x":70.2,"GF1":0.2,"GF2":0.19},{"x":70.3,"GF1":0.5,"GF2":0.4},{"x":70.4,"GF1":0.62,"GF2":0.2},{"x":70.5,"GF1":-0.6,"GF2":-0.2},{"x":70.6,"GF1":0.1,"GF2":-0.4},{"x":70.7,"GF1":0.4,"GF2":0.2},{"x":70.8,"GF1":-0.2,"GF2":0.5},{"x":70.9,"GF1":0.3,"GF2":0},{"x":71,"GF1":0.51,"GF2":-0.33},{"x":71.1,"GF1":-0.5,"GF2":-0.8},{"x":71.2,"GF1":-1.5,"GF2":-1.2},{"x":71.3,"GF1":-2.2,"GF2":-1.6},{"x":71.4,"GF1":-2.48,"GF2":-1.8},{"x":71.5,"GF1":-1.5,"GF2":-1.3},{"x":71.6,"GF1":-0.3,"GF2":-0.2},{"x":71.7,"GF1":0.9,"GF2":1.2},{"x":71.8,"GF1":0.7,"GF2":2.43},{"x":71.9,"GF1":1.1,"GF2":1.5},{"x":72,"GF1":1.2,"GF2":0.4},{"x":72.1,"GF1":1.42,"GF2":-0.5},{"x":72.2,"GF1":0.2,"GF2":-1.8},{"x":72.3,"GF1":-1.5,"GF2":-3},{"x":72.4,"GF1":-3.5,"GF2":-5},{"x":72.5,"GF1":-6,"GF2":-6.52},{"x":72.6,"GF1":-6.97,"GF2":-4.5},{"x":72.7,"GF1":2.47,"GF2":4.1},{"x":72.8,"GF1":1,"GF2":2.5},{"x":72.9,"GF1":0.6,"GF2":1.5},{"x":73,"GF1":0.44,"GF2":0.8},{"x":73.1,"GF1":1.2,"GF2":1.5},{"x":73.2,"GF1":2.43,"GF2":1.82},{"x":73.3,"GF1":1,"GF2":1.6},{"x":73.4,"GF1":-1.5,"GF2":-1},{"x":73.5,"GF1":-3.33,"GF2":-2.03},{"x":73.6,"GF1":-1,"GF2":-0.6},{"x":73.7,"GF1":-0.14,"GF2":0.2},{"x":73.8,"GF1":-0.3,"GF2":0.5},{"x":73.9,"GF1":0.4,"GF2":0.7},{"x":74,"GF1":0.6,"GF2":0.97},{"x":74.1,"GF1":0.9,"GF2":0.6},{"x":74.2,"GF1":1,"GF2":0.4},{"x":74.3,"GF1":1.29,"GF2":0.3},{"x":74.4,"GF1":0.5,"GF2":0.6},{"x":74.5,"GF1":0.1,"GF2":0},{"x":74.6,"GF1":0.3,"GF2":0.4},{"x":74.7,"GF1":-0.2,"GF2":0.1},{"x":74.8,"GF1":-0.69,"GF2":-0.2},{"x":74.9,"GF1":0.3,"GF2":0.2},{"x":75,"GF1":0.1,"GF2":-0.3},
{"x":75.2,"GF1":0.4,"GF2":0.3},{"x":75.4,"GF1":-0.3,"GF2":-0.1},{"x":75.6,"GF1":0.5,"GF2":0.2},{"x":75.8,"GF1":0,"GF2":0.4},{"x":76,"GF1":0.3,"GF2":-0.2},{"x":76.2,"GF1":-0.4,"GF2":0.1},{"x":76.4,"GF1":0.2,"GF2":-0.3},{"x":76.6,"GF1":-0.2,"GF2":0.2},{"x":76.8,"GF1":0.4,"GF2":0},{"x":77,"GF1":-0.3,"GF2":0.3},{"x":77.2,"GF1":0.2,"GF2":-0.2},{"x":77.4,"GF1":-0.4,"GF2":0.1},{"x":77.6,"GF1":0.3,"GF2":-0.3},{"x":77.8,"GF1":0.5,"GF2":0.2},{"x":78,"GF1":-0.3,"GF2":-0.1},{"x":78.2,"GF1":0.1,"GF2":0.3},{"x":78.4,"GF1":-0.5,"GF2":-0.2},{"x":78.6,"GF1":-0.82,"GF2":0.1},{"x":78.8,"GF1":0.3,"GF2":-0.4},{"x":79,"GF1":-0.2,"GF2":0.5},{"x":79.2,"GF1":1.22,"GF2":1},{"x":79.4,"GF1":-0.4,"GF2":0.2},{"x":79.6,"GF1":0.5,"GF2":-0.6},{"x":79.8,"GF1":-0.3,"GF2":-1.12},{"x":80,"GF1":0.2,"GF2":-0.4},{"x":80.2,"GF1":1,"GF2":0.3},{"x":80.4,"GF1":-0.75,"GF2":-0.2},{"x":80.6,"GF1":0.1,"GF2":-0.4},{"x":80.8,"GF1":-0.2,"GF2":-0.1},{"x":81,"GF1":0.3,"GF2":0.2},{"x":81.2,"GF1":-0.1,"GF2":-0.2},{"x":81.4,"GF1":0.4,"GF2":0.1},{"x":81.6,"GF1":-0.3,"GF2":-0.1},{"x":81.8,"GF1":0.2,"GF2":0.2},{"x":82,"GF1":-0.2,"GF2":0},{"x":82.2,"GF1":0.3,"GF2":-0.2},{"x":82.4,"GF1":-0.1,"GF2":0.1},{"x":82.6,"GF1":0.2,"GF2":-0.1},{"x":82.8,"GF1":0,"GF2":0.3},{"x":83,"GF1":0.4,"GF2":0.1},{"x":83.2,"GF1":-0.2,"GF2":0.2},{"x":83.4,"GF1":0.3,"GF2":0},{"x":83.6,"GF1":-0.5,"GF2":0.4},{"x":83.8,"GF1":0.8,"GF2":0.6},{"x":84,"GF1":1.42,"GF2":0.5},{"x":84.2,"GF1":0.6,"GF2":0.9},{"x":84.4,"GF1":1.39,"GF2":0.7},{"x":84.6,"GF1":0.9,"GF2":1},{"x":84.8,"GF1":1.1,"GF2":0.8},{"x":85,"GF1":1.3,"GF2":1.07},{"x":85.2,"GF1":1.48,"GF2":0.9},{"x":85.3,"GF1":-0.3,"GF2":0.8},{"x":85.4,"GF1":0.9,"GF2":0.7},{"x":85.6,"GF1":0.7,"GF2":0.5},{"x":85.8,"GF1":0.4,"GF2":0.6},{"x":86,"GF1":0.6,"GF2":0.3},{"x":86.2,"GF1":0.3,"GF2":0.4},{"x":86.4,"GF1":0.4,"GF2":0.2},{"x":86.6,"GF1":0.2,"GF2":0.1}
],
"d":[
{"x":50,"GF1":0.2,"GF2":0.1},{"x":50.2,"GF1":-0.2,"GF2":-0.1},{"x":50.4,"GF1":0.3,"GF2":0.2},{"x":50.6,"GF1":-0.1,"GF2":-0.2},{"x":50.8,"GF1":0.2,"GF2":0.1},{"x":51,"GF1":-0.3,"GF2":-0.1},{"x":51.2,"GF1":0.1,"GF2":0.2},{"x":51.4,"GF1":-0.2,"GF2":-0.1},{"x":51.6,"GF1":0.3,"GF2":0.1},{"x":51.8,"GF1":-0.1,"GF2":-0.2},{"x":52,"GF1":0.2,"GF2":0.1},{"x":52.2,"GF1":-0.3,"GF2":-0.1},{"x":52.4,"GF1":0.3,"GF2":0.2},{"x":52.6,"GF1":-0.1,"GF2":-0.1},{"x":52.8,"GF1":0.2,"GF2":0.1},{"x":53,"GF1":-0.2,"GF2":-0.2},{"x":53.2,"GF1":0.1,"GF2":0.2},{"x":53.4,"GF1":-0.3,"GF2":-0.1},{"x":53.6,"GF1":0.2,"GF2":0.1},{"x":53.8,"GF1":-0.1,"GF2":-0.2},{"x":54,"GF1":0.3,"GF2":0.1},{"x":54.2,"GF1":-0.2,"GF2":-0.1},{"x":54.4,"GF1":0.1,"GF2":0.2},{"x":54.6,"GF1":-0.2,"GF2":-0.1},{"x":54.8,"GF1":0.3,"GF2":0.1},{"x":55,"GF1":-0.1,"GF2":-0.2},{"x":55.2,"GF1":0.2,"GF2":0.1},{"x":55.4,"GF1":-0.3,"GF2":-0.1},{"x":55.6,"GF1":0.1,"GF2":0.2},{"x":55.8,"GF1":-0.2,"GF2":-0.1},{"x":56,"GF1":0.3,"GF2":0.1},{"x":56.2,"GF1":-0.1,"GF2":-0.2},{"x":56.4,"GF1":0.2,"GF2":0.1},{"x":56.6,"GF1":-0.2,"GF2":-0.1},{"x":56.8,"GF1":0.1,"GF2":0.2},{"x":57,"GF1":-0.3,"GF2":-0.1},{"x":57.2,"GF1":0.2,"GF2":0.1},{"x":57.4,"GF1":-0.1,"GF2":-0.2},{"x":57.6,"GF1":0.3,"GF2":0.1},{"x":57.8,"GF1":-0.2,"GF2":-0.1},{"x":58,"GF1":0.1,"GF2":0.2},{"x":58.2,"GF1":-0.2,"GF2":-0.1},{"x":58.4,"GF1":0.2,"GF2":0.1},{"x":58.6,"GF1":-0.1,"GF2":-0.2},{"x":58.8,"GF1":0.3,"GF2":0.1},{"x":59,"GF1":-0.2,"GF2":-0.1},{"x":59.2,"GF1":0.1,"GF2":0.2},{"x":59.4,"GF1":-0.1,"GF2":-0.1},{"x":59.6,"GF1":0.4,"GF2":0.1},{"x":59.8,"GF1":-0.4,"GF2":-0.2},{"x":60,"GF1":0.2,"GF2":0.1},{"x":60.2,"GF1":-0.1,"GF2":-0.1},{"x":60.4,"GF1":0.2,"GF2":0.2},{"x":60.6,"GF1":-0.2,"GF2":-0.1},{"x":60.8,"GF1":0.1,"GF2":0.3},{"x":61,"GF1":-0.3,"GF2":-0.1},{"x":61.2,"GF1":0.2,"GF2":0.1},{"x":61.4,"GF1":-0.1,"GF2":-0.2},{"x":61.6,"GF1":0.3,"GF2":0.1},{"x":61.8,"GF1":-0.2,"GF2":-0.1},{"x":62,"GF1":0.1,"GF2":0.2},{"x":62.2,"GF1":-0.2,"GF2":-0.1},{"x":62.4,"GF1":0.2,"GF2":0.1},{"x":62.6,"GF1":-0.1,"GF2":-0.2},{"x":62.8,"GF1":0.3,"GF2":0.1},{"x":63,"GF1":-0.2,"GF2":-0.1},{"x":63.2,"GF1":0.1,"GF2":0.2},{"x":63.4,"GF1":-0.3,"GF2":-0.1},{"x":63.6,"GF1":0.2,"GF2":0.1},{"x":63.8,"GF1":-0.1,"GF2":-0.2},{"x":64,"GF1":0.2,"GF2":0.1},{"x":64.2,"GF1":-0.2,"GF2":-0.1},{"x":64.4,"GF1":0.3,"GF2":0.2},{"x":64.6,"GF1":-0.1,"GF2":-0.1},{"x":64.8,"GF1":0.2,"GF2":0.1},{"x":65,"GF1":-0.3,"GF2":-0.2},{"x":65.2,"GF1":0.1,"GF2":0.1},{"x":65.4,"GF1":-0.2,"GF2":-0.1},{"x":65.6,"GF1":0.2,"GF2":0.2},{"x":65.8,"GF1":-0.1,"GF2":-0.1},{"x":66,"GF1":0.3,"GF2":0.1},{"x":66.2,"GF1":-0.2,"GF2":-0.2},{"x":66.4,"GF1":0.1,"GF2":0.1},{"x":66.6,"GF1":-0.1,"GF2":-0.1},{"x":66.8,"GF1":0.3,"GF2":0.2},{"x":67,"GF1":-0.2,"GF2":-0.1},{"x":67.2,"GF1":-0.5,"GF2":0.1},{"x":67.4,"GF1":0.2,"GF2":-0.2},{"x":67.6,"GF1":-0.1,"GF2":0.1},{"x":67.8,"GF1":0.2,"GF2":-0.1},{"x":68,"GF1":-0.2,"GF2":0.2},{"x":68.2,"GF1":0.1,"GF2":-0.1},{"x":68.4,"GF1":-0.1,"GF2":0.1},{"x":68.6,"GF1":0.2,"GF2":-0.2},{"x":68.8,"GF1":-0.2,"GF2":0.1},{"x":69,"GF1":0.1,"GF2":-0.1},{"x":69.2,"GF1":-0.1,"GF2":0.2},{"x":69.4,"GF1":0.2,"GF2":-0.1},{"x":69.6,"GF1":-0.1,"GF2":0.1},{"x":69.8,"GF1":0.1,"GF2":-0.1},
{"x":70,"GF1":-0.1,"GF2":0.1},{"x":70.1,"GF1":0.1,"GF2":-0.1},{"x":70.2,"GF1":-0.2,"GF2":0},{"x":70.3,"GF1":0.2,"GF2":0.2},{"x":70.4,"GF1":0,"GF2":0.4},{"x":70.5,"GF1":0.4,"GF2":0.8},{"x":70.6,"GF1":0.2,"GF2":0.3},{"x":70.7,"GF1":-0.5,"GF2":-0.4},{"x":70.8,"GF1":-0.2,"GF2":-0.1},{"x":70.9,"GF1":0.3,"GF2":0.3},{"x":71,"GF1":0.5,"GF2":0.4},{"x":71.1,"GF1":0.1,"GF2":0},{"x":71.2,"GF1":-0.3,"GF2":-0.2},{"x":71.3,"GF1":-0.5,"GF2":-0.4},{"x":71.4,"GF1":-0.2,"GF2":-0.3},{"x":71.5,"GF1":0.1,"GF2":0.2},{"x":71.6,"GF1":0.3,"GF2":0.1},{"x":71.7,"GF1":-0.1,"GF2":-0.2},{"x":71.8,"GF1":0.2,"GF2":0},{"x":71.9,"GF1":-0.3,"GF2":-0.2},{"x":72,"GF1":0.1,"GF2":0.2},{"x":72.1,"GF1":-0.2,"GF2":-0.1},{"x":72.2,"GF1":0.2,"GF2":0.1},{"x":72.3,"GF1":-0.1,"GF2":-0.2},{"x":72.4,"GF1":0.1,"GF2":0.1},{"x":72.5,"GF1":-0.2,"GF2":0},{"x":72.6,"GF1":0.1,"GF2":0.2},{"x":72.7,"GF1":0.2,"GF2":0.1},{"x":72.8,"GF1":0,"GF2":0.2},{"x":72.9,"GF1":0.1,"GF2":-0.1},{"x":73,"GF1":-0.1,"GF2":0.1},{"x":73.1,"GF1":0,"GF2":-0.1},{"x":73.2,"GF1":-0.2,"GF2":-0.2},{"x":73.3,"GF1":-0.3,"GF2":-0.3},{"x":73.4,"GF1":-0.4,"GF2":-0.5},{"x":73.5,"GF1":-0.7,"GF2":-0.9},{"x":73.6,"GF1":0.3,"GF2":-0.3},{"x":73.7,"GF1":0.96,"GF2":0.2},{"x":73.8,"GF1":0.3,"GF2":-0.92},{"x":73.9,"GF1":-1.38,"GF2":-1.5},{"x":74,"GF1":-1,"GF2":-2.03},{"x":74.1,"GF1":0.2,"GF2":0},{"x":74.2,"GF1":0.8,"GF2":1},{"x":74.3,"GF1":1.29,"GF2":1.81},{"x":74.4,"GF1":-1,"GF2":0.5},{"x":74.5,"GF1":-4.96,"GF2":-3.85},{"x":74.6,"GF1":-3.5,"GF2":-3},{"x":74.7,"GF1":-2,"GF2":-1.8},{"x":74.8,"GF1":-1.3,"GF2":-1.2},{"x":74.9,"GF1":-1.1,"GF2":-1},{"x":75,"GF1":0.5,"GF2":-0.2},{"x":75.1,"GF1":2.14,"GF2":1.5},{"x":75.2,"GF1":4.88,"GF2":4},{"x":75.3,"GF1":2.5,"GF2":5.53},{"x":75.4,"GF1":-0.5,"GF2":0.3},{"x":75.5,"GF1":-1.25,"GF2":-1.25},{"x":75.6,"GF1":1.61,"GF2":1.2},{"x":75.7,"GF1":0.51,"GF2":2.8},{"x":75.8,"GF1":1.8,"GF2":3.12},{"x":75.9,"GF1":2.8,"GF2":2},{"x":76,"GF1":2.99,"GF2":2.99},{"x":76.1,"GF1":1.8,"GF2":1.5},{"x":76.2,"GF1":0.6,"GF2":0.2},{"x":76.3,"GF1":0.19,"GF2":-0.8},{"x":76.4,"GF1":-0.6,"GF2":-2.6},{"x":76.5,"GF1":-1.12,"GF2":-1},{"x":76.6,"GF1":-0.4,"GF2":0},{"x":76.7,"GF1":0.2,"GF2":0.6},{"x":76.8,"GF1":-0.5,"GF2":0.31},{"x":76.9,"GF1":-0.98,"GF2":1},{"x":77,"GF1":0.5,"GF2":1.8},{"x":77.1,"GF1":2.4,"GF2":2.33},{"x":77.2,"GF1":1,"GF2":0.3},{"x":77.3,"GF1":2.5,"GF2":2.5},{"x":77.4,"GF1":4.3,"GF2":4},{"x":77.5,"GF1":5.4,"GF2":4.81},{"x":77.6,"GF1":2,"GF2":1.5},{"x":77.7,"GF1":0.44,"GF2":-1},{"x":77.8,"GF1":-1,"GF2":-3.27},{"x":77.9,"GF1":-1.9,"GF2":0.64},{"x":78,"GF1":-1.2,"GF2":-1.2},{"x":78.1,"GF1":-0.6,"GF2":-1.5},{"x":78.2,"GF1":-0.01,"GF2":-2.16},{"x":78.3,"GF1":-1.5,"GF2":-1.2},{"x":78.4,"GF1":-2.29,"GF2":-0.5},{"x":78.5,"GF1":-0.8,"GF2":0.3},{"x":78.6,"GF1":0.3,"GF2":1.2},{"x":78.7,"GF1":0.58,"GF2":2},{"x":78.8,"GF1":1.5,"GF2":2.6},{"x":78.9,"GF1":2,"GF2":1.5},{"x":79,"GF1":1.2,"GF2":0.8},{"x":79.1,"GF1":0.4,"GF2":0.19},{"x":79.2,"GF1":-0.2,"GF2":-0.3},{"x":79.3,"GF1":-0.7,"GF2":-0.9},{"x":79.4,"GF1":-1.12,"GF2":-1.12},{"x":79.5,"GF1":-0.6,"GF2":-0.5},{"x":79.6,"GF1":0.4,"GF2":0.6},{"x":79.7,"GF1":1.2,"GF2":1.4},{"x":79.8,"GF1":1.88,"GF2":1.95},{"x":79.9,"GF1":0.6,"GF2":0.8},{"x":80,"GF1":-0.4,"GF2":-0.3},{"x":80.1,"GF1":-1.25,"GF2":-0.98},{"x":80.2,"GF1":-0.8,"GF2":-0.7},{"x":80.3,"GF1":0.2,"GF2":0.3},{"x":80.4,"GF1":0.96,"GF2":0.8},{"x":80.5,"GF1":-0.2,"GF2":-0.4},{"x":80.6,"GF1":-0.92,"GF2":-0.9},{"x":80.7,"GF1":1.5,"GF2":1.5},{"x":80.8,"GF1":4.29,"GF2":4.2},{"x":80.9,"GF1":1,"GF2":1.2},{"x":81,"GF1":-0.47,"GF2":-0.53},{"x":81.1,"GF1":0.1,"GF2":0.2},{"x":81.2,"GF1":-0.3,"GF2":0.4},{"x":81.3,"GF1":0.2,"GF2":0.1},{"x":81.4,"GF1":-0.6,"GF2":-0.4},{"x":81.5,"GF1":-0.4,"GF2":-0.2},{"x":81.6,"GF1":0.1,"GF2":0.2},{"x":81.7,"GF1":-0.2,"GF2":-0.3},{"x":81.8,"GF1":0.3,"GF2":-0.1},{"x":81.9,"GF1":0.1,"GF2":0.4},{"x":82,"GF1":0.2,"GF2":0.5},
{"x":82.2,"GF1":0.7,"GF2":0.6},{"x":82.4,"GF1":0.5,"GF2":0.8},{"x":82.6,"GF1":0.6,"GF2":0.5},{"x":82.8,"GF1":0,"GF2":0.2},{"x":83,"GF1":-0.3,"GF2":-0.2},{"x":83.2,"GF1":-0.5,"GF2":-0.6},{"x":83.4,"GF1":0.2,"GF2":-0.1},{"x":83.6,"GF1":-0.1,"GF2":0.2},{"x":83.8,"GF1":0.4,"GF2":0.3},{"x":84,"GF1":0.1,"GF2":0.2},{"x":84.2,"GF1":-0.2,"GF2":-0.1},{"x":84.4,"GF1":1,"GF2":0.6},{"x":84.6,"GF1":-0.3,"GF2":-0.5},{"x":84.8,"GF1":0.2,"GF2":0.3},{"x":85,"GF1":-0.1,"GF2":0.1},{"x":85.2,"GF1":0.3,"GF2":-0.2},{"x":85.4,"GF1":-0.2,"GF2":0.2},{"x":85.6,"GF1":0.2,"GF2":-0.1},{"x":85.8,"GF1":-0.1,"GF2":0.1},{"x":86,"GF1":0.2,"GF2":-0.2},{"x":86.2,"GF1":-0.2,"GF2":0.1},{"x":86.4,"GF1":0.1,"GF2":-0.1},{"x":86.6,"GF1":-0.2,"GF2":0.2},{"x":86.8,"GF1":0.2,"GF2":-0.1},{"x":87,"GF1":-0.1,"GF2":0.1},{"x":87.2,"GF1":0.3,"GF2":-0.2},{"x":87.4,"GF1":-0.2,"GF2":0.3},{"x":87.6,"GF1":0.1,"GF2":0}
]
},
"columns":2,
"spacing":{"row":181,"column":112},
"bounds":"flush",
"resolve":{"scale":{"x":"independent","y":"independent","color":"independent"},"axis":{"x":"independent","y":"independent"},"legend":{"color":"independent"}},
"concat":[
{"width":688,"height":410,
"title":{"text":["GRACE-FO\u00a0\u00a0\u00a02019-08-31","UT=03:55:12\u00a0\u00a0\u00a0MLT=12:57\u00a0\u00a0\u00a0R\u2098\u2090\u2093=0.366"]},
"layer":[
{"data":{"name":"a"},"transform":[{"fold":["GF1","GF2"],"as":["sat","fac"]}],
"mark":{"type":"line","strokeWidth":1.2},
"encoding":{
"x":{"field":"x","type":"quantitative","scale":{"domain":[50,90],"nice":false,"zero":false},"axis":{"values":[50,55,60,65,70,75,80,85,90],"title":"Magnetic latitude [°]"}},
"y":{"field":"fac","type":"quantitative","scale":{"domain":[-8,8],"nice":false},"axis":{"values":[-8,-4,0,4,8],"title":"FAC [μA/m²]"}},
"color":{"field":"sat","type":"nominal","scale":{"domain":["GF1","GF2"],"range":["#000000","#ff0000"]},"legend":{"title":null}}}},
{"data":{"values":[{}]},"mark":{"type":"text","fontSize":50,"font":"Liberation Sans","color":"#000000","align":"center","baseline":"middle"},
"encoding":{
"x":{"datum":46.66,"type":"quantitative","scale":{"domain":[50,90],"nice":false,"zero":false},"axis":{"orient":"top","values":[50,55,60,65,70,75,80,85,90],"labels":false,"domain":false,"title":null}},
"y":{"datum":7.65,"type":"quantitative","scale":{"domain":[-8,8],"nice":false},"axis":{"orient":"right","values":[-8,-4,0,4,8],"labels":false,"domain":false,"title":null}},
"text":{"value":"(a)"}}}
],
"resolve":{"axis":{"x":"independent","y":"independent"}}},
{"width":688,"height":410,
"title":{"text":["GRACE-FO\u00a0\u00a0\u00a02019-09-28","UT=03:29:40\u00a0\u00a0\u00a0MLT=23:47\u00a0\u00a0\u00a0R\u2098\u2090\u2093=0.255"]},
"layer":[
{"data":{"name":"b"},"transform":[{"fold":["GF1","GF2"],"as":["sat","fac"]}],
"mark":{"type":"line","strokeWidth":1.2},
"encoding":{
"x":{"field":"x","type":"quantitative","scale":{"domain":[50,90],"nice":false,"zero":false},"axis":{"values":[50,55,60,65,70,75,80,85,90],"title":"Magnetic latitude [°]"}},
"y":{"field":"fac","type":"quantitative","scale":{"domain":[-8,8],"nice":false},"axis":{"values":[-8,-4,0,4,8],"title":"FAC [μA/m²]"}},
"color":{"field":"sat","type":"nominal","scale":{"domain":["GF1","GF2"],"range":["#000000","#ff0000"]},"legend":{"title":null}}}},
{"data":{"values":[{}]},"mark":{"type":"text","fontSize":50,"font":"Liberation Sans","color":"#000000","align":"center","baseline":"middle"},
"encoding":{
"x":{"datum":46.66,"type":"quantitative","scale":{"domain":[50,90],"nice":false,"zero":false},"axis":{"orient":"top","values":[50,55,60,65,70,75,80,85,90],"labels":false,"domain":false,"title":null}},
"y":{"datum":7.65,"type":"quantitative","scale":{"domain":[-8,8],"nice":false},"axis":{"orient":"right","values":[-8,-4,0,4,8],"labels":false,"domain":false,"title":null}},
"text":{"value":"(b)"}}}
],
"resolve":{"axis":{"x":"independent","y":"independent"}}},
{"width":688,"height":410,
"title":{"text":["GRACE-FO\u00a0\u00a0\u00a02018-06-26","UT=11:49:48\u00a0\u00a0\u00a0MLT=20:42\u00a0\u00a0\u00a0R\u2098\u2090\u2093=0.830"]},
"layer":[
{"data":{"name":"c"},"transform":[{"fold":["GF1","GF2"],"as":["sat","fac"]}],
"mark":{"type":"line","strokeWidth":1.2},
"encoding":{
"x":{"field":"x","type":"quantitative","scale":{"domain":[50,90],"nice":false,"zero":false},"axis":{"values":[50,55,60,65,70,75,80,85,90],"title":"Magnetic latitude [°]"}},
"y":{"field":"fac","type":"quantitative","scale":{"domain":[-8,8],"nice":false},"axis":{"values":[-8,-4,0,4,8],"title":"FAC [μA/m²]"}},
"color":{"field":"sat","type":"nominal","scale":{"domain":["GF1","GF2"],"range":["#000000","#ff0000"]},"legend":{"title":null}}}},
{"data":{"values":[{}]},"mark":{"type":"text","fontSize":50,"font":"Liberation Sans","color":"#000000","align":"center","baseline":"middle"},
"encoding":{
"x":{"datum":46.66,"type":"quantitative","scale":{"domain":[50,90],"nice":false,"zero":false},"axis":{"orient":"top","values":[50,55,60,65,70,75,80,85,90],"labels":false,"domain":false,"title":null}},
"y":{"datum":7.65,"type":"quantitative","scale":{"domain":[-8,8],"nice":false},"axis":{"orient":"right","values":[-8,-4,0,4,8],"labels":false,"domain":false,"title":null}},
"text":{"value":"(c)"}}}
],
"resolve":{"axis":{"x":"independent","y":"independent"}}},
{"width":688,"height":410,
"title":{"text":["GRACE-FO\u00a0\u00a0\u00a02018-12-17","UT=15:46:48\u00a0\u00a0\u00a0MLT=07:49\u00a0\u00a0R\u2098\u2090\u2093=0.824"]},
"layer":[
{"data":{"name":"d"},"transform":[{"fold":["GF1","GF2"],"as":["sat","fac"]}],
"mark":{"type":"line","strokeWidth":1.2},
"encoding":{
"x":{"field":"x","type":"quantitative","scale":{"domain":[50,90],"nice":false,"zero":false},"axis":{"values":[50,55,60,65,70,75,80,85,90],"title":"Magnetic latitude [°]"}},
"y":{"field":"fac","type":"quantitative","scale":{"domain":[-8,8],"nice":false},"axis":{"values":[-8,-4,0,4,8],"title":"FAC [μA/m²]"}},
"color":{"field":"sat","type":"nominal","scale":{"domain":["GF1","GF2"],"range":["#000000","#ff0000"]},"legend":{"title":null}}}},
{"data":{"values":[{}]},"mark":{"type":"text","fontSize":50,"font":"Liberation Sans","color":"#000000","align":"center","baseline":"middle"},
"encoding":{
"x":{"datum":46.66,"type":"quantitative","scale":{"domain":[50,90],"nice":false,"zero":false},"axis":{"orient":"top","values":[50,55,60,65,70,75,80,85,90],"labels":false,"domain":false,"title":null}},
"y":{"datum":7.65,"type":"quantitative","scale":{"domain":[-8,8],"nice":false},"axis":{"orient":"right","values":[-8,-4,0,4,8],"labels":false,"domain":false,"title":null}},
"text":{"value":"(d)"}}}
],
"resolve":{"axis":{"x":"independent","y":"independent"}}}
]
}
